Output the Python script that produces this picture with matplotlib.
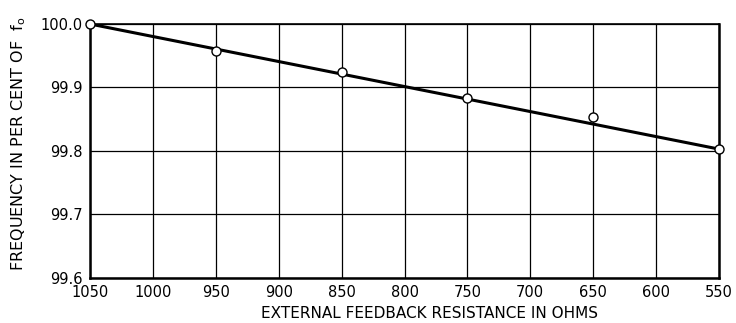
import numpy as np
import matplotlib.pyplot as plt

# external feedback resistance (ohms) and measured frequency (% of f0)
resistance = [1050, 950, 850, 750, 650, 550]
frequency = [100.0, 99.957, 99.924, 99.883, 99.853, 99.803]
# fitted straight line end points
line_r = [1050, 550]
line_f = [100.0, 99.803]

xticks = list(range(1050, 549, -50))
yticks = [99.6, 99.7, 99.8, 99.9, 100.0]

plt.rcParams['font.family'] = ['DejaVu Sans']

fig = plt.figure(figsize=(7.36, 3.23), dpi=100)
ax = fig.add_axes([90 / 736, 1 - 278 / 323, 629 / 736, 254 / 323])

ax.plot(line_r, line_f, color='black', lw=2.2, zorder=3)
ax.plot(resistance, frequency, 'o', ms=6.5, mfc='white', mec='black', mew=1.0,
        zorder=4, clip_on=False)

ax.set_xlim(1050, 550)
ax.set_ylim(99.6, 100.0)
ax.set_xticks(xticks)
ax.set_xticklabels([str(x) for x in xticks])
ax.set_yticks(yticks)
ax.set_yticklabels([f'{y:.1f}' for y in yticks])
ax.grid(True, color='black', lw=0.9)
ax.tick_params(length=0, labelsize=10.5, pad=5)

for side, w in [('left', 1.8), ('bottom', 1.8), ('right', 1.8), ('top', 1.2)]:
    ax.spines[side].set_linewidth(w)

ax.set_xlabel('EXTERNAL FEEDBACK RESISTANCE IN OHMS', fontsize=11, labelpad=4)
ax.xaxis.set_label_coords(0.54, -0.11)
ax.set_ylabel('FREQUENCY IN PER CENT OF  $\\mathregular{f_o}$', fontsize=11.5, labelpad=7)
ax.yaxis.set_label_coords(-0.098, 0.53)

fig.savefig('out.png', dpi=100)
